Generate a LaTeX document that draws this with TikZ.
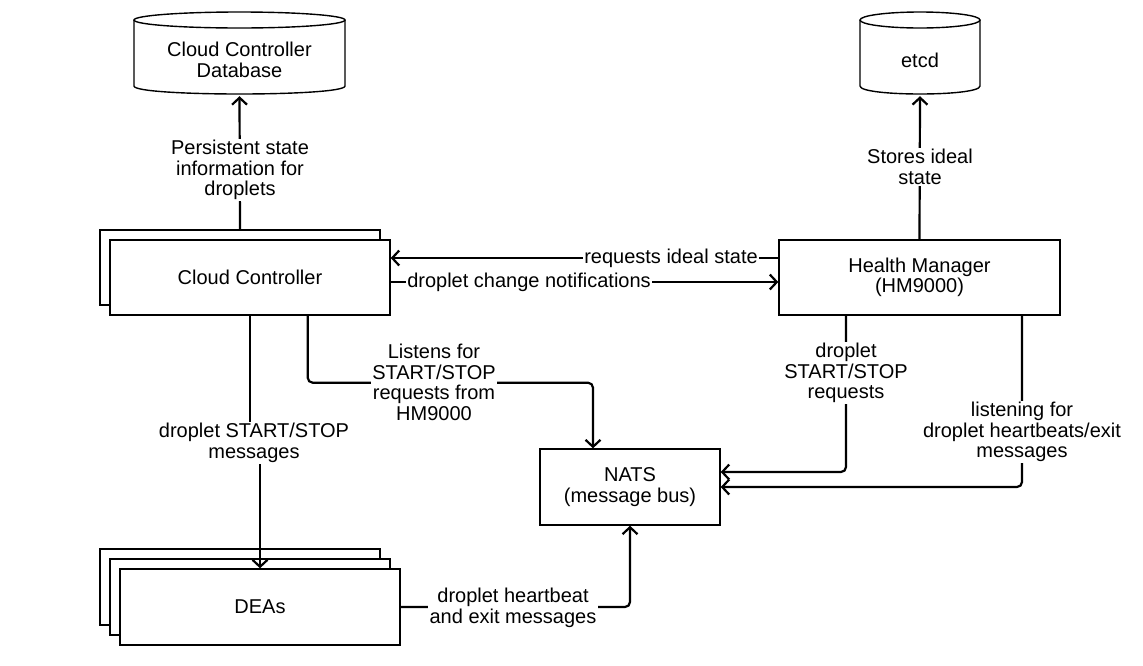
\documentclass[tikz,border=0pt]{standalone}
\usepackage{fontspec}
\setmainfont{Liberation Sans}
\usetikzlibrary{arrows.meta}
\begin{document}
\begin{tikzpicture}[x=1pt,y=-1pt,
  every node/.style={font=\fontsize{20}{20.5}\selectfont},
  box/.style={draw, line width=1.4pt, fill=white, minimum width=280pt, minimum height=75pt, inner sep=0pt, align=center},
  cylline/.style={line width=1.4pt},
  conn/.style={line width=2.2pt, rounded corners=5pt, -{Straight Barb[length=7pt,width=15pt,line width=2.2pt]}},
  lab/.style={fill=white, inner sep=1.5pt, align=center}
]
\useasboundingbox (0,0) rectangle (1143,665);

% ---- cylinders ----
\node[minimum width=211pt, minimum height=82pt, inner sep=0pt] (ccdb) at (239.5,53) {};
\draw[cylline] (239.5,20) ellipse[x radius=105.5, y radius=8];
\draw[cylline] (134,20) -- (134,86) .. controls (134,96.67) and (345,96.67) .. (345,86) -- (345,20);
\node[align=center] (ccdbtext) at (239.5,60) {Cloud Controller\\Database};

\node[minimum width=120pt, minimum height=82pt, inner sep=0pt] (etcd) at (920,53) {};
\draw[cylline] (920,20) ellipse[x radius=60, y radius=8];
\draw[cylline] (860,20) -- (860,86) .. controls (860,96.67) and (980,96.67) .. (980,86) -- (980,20);
\node (etcdtext) at (920,60) {etcd};

% ---- boxes ----
\node[box] (ccback) at (240,267.5) {};
\node[box] (ccfront) at (250,277.5) {Cloud Controller};
\node[box, minimum width=281pt] (hm) at (919.5,277.5) {Health Manager\\(HM9000)};
\node[box, minimum width=180pt, minimum height=76pt] (nats) at (630,487) {NATS\\(message bus)};
\node[box, minimum height=76pt] (deaback) at (240,587) {};
\node[box, minimum height=76pt] (deamid) at (250,597) {};
\node[box, minimum height=76pt] (deafront) at (260,607) {DEAs};

% ---- connectors ----
\draw[conn] (ccback.north) -- ([yshift=-2pt]ccdb.south);
\draw[conn] (hm.north) -- ([yshift=-2pt]etcd.south);

\draw[conn] ([yshift=19.5pt]hm.west) coordinate (r1) -- (ccfront.east |- r1);
\draw[conn] ([yshift=-4.5pt]ccfront.east) coordinate (r2) -- (hm.west |- r2);

\draw[conn, rounded corners=0pt] (ccfront.south) -- (250,443) -- (260,443) -- (deafront.north);
\draw[conn] ([xshift=57.7pt]ccfront.south) -- ++(0,67) -| ([xshift=-37pt]nats.north);

\draw[conn] ([xshift=-73.5pt]hm.south) |- ([yshift=15pt]nats.east);
\draw[conn] ([xshift=102.5pt]hm.south) |- (nats.east);

\draw[conn] (deafront.east) -| (nats.south);

% ---- labels ----
\node[lab] (l1) at (240,170) {Persistent state\\information for\\droplets};
\node[lab] (l2) at (920,167) {Stores ideal\\state};
\node[lab] (l3) at (671,258) {requests ideal state};
\node[lab] (l4) at (529,282) {droplet change notifications};
\node[lab] (l5) at (254,443) {droplet START/STOP\\messages};
\node[lab] (l6) at (434,382.5) {Listens for\\START/STOP\\requests from\\HM9000};
\node[lab] (l7) at (846,373) {droplet\\START/STOP\\requests};
\node[lab] (l8) at (1022,432) {listening for\\droplet heartbeats/exit\\messages};
\node[lab] (l9) at (513,608) {droplet heartbeat\\and exit messages};
\end{tikzpicture}
\end{document}
